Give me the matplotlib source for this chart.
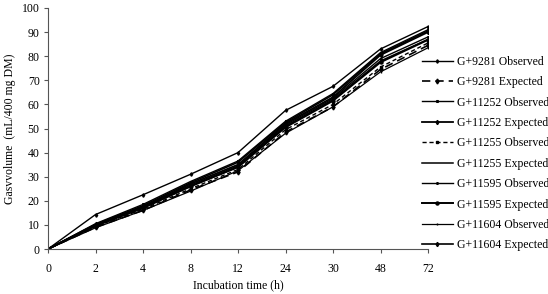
import matplotlib.pyplot as plt

plt.rcParams['font.family'] = ['Liberation Serif', 'DejaVu Serif']

hours = ['0', '2', '4', '8', '12', '24', '30', '48', '72']

g9281_obs = [0, 14.3, 22.5, 31.0, 40.0, 57.5, 67.5, 83.0, 92.3]
g9281_exp = [0, 9.0, 16.0, 24.5, 32.0, 48.5, 59.0, 74.5, 84.5]
g11252_obs = [0, 10.5, 18.5, 28.0, 36.5, 53.0, 64.5, 81.5, 91.0]
g11252_exp = [0, 10.0, 17.5, 27.0, 35.0, 52.0, 63.0, 80.5, 90.0]
g11255_obs = [0, 9.4, 16.5, 25.0, 33.0, 49.5, 60.0, 75.5, 85.5]
g11255_exp = [0, 9.8, 17.0, 26.0, 34.0, 51.0, 62.0, 78.0, 87.0]
g11595_obs = [0, 10.0, 17.5, 26.5, 34.5, 51.5, 62.5, 79.0, 88.0]
g11595_exp = [0, 9.6, 17.0, 26.0, 34.0, 50.5, 61.5, 77.5, 86.8]
g11604_obs = [0, 8.8, 16.0, 24.0, 32.5, 48.0, 59.0, 73.5, 83.5]
g11604_exp = [0, 10.2, 18.0, 27.5, 36.0, 52.5, 64.0, 81.0, 90.5]

# label, values, linestyle, linewidth, marker, markersize
series = [
    ('G+9281 Observed', g9281_obs, '-', 1.0, 'd', 1.8),
    ('G+9281 Expected', g9281_exp, (0, (5, 3)), 1.2, 'd', 2.5),
    ('G+11252 Observed', g11252_obs, '-', 1.0, 's', 1.2),
    ('G+11252 Expected', g11252_exp, '-', 1.3, 'd', 2.2),
    ('G+11255 Observed', g11255_obs, (0, (3, 2)), 1.0, 's', 2),
    ('G+11255 Expected', g11255_exp, '-', 1.1, '', 0),
    ('G+11595 Observed', g11595_obs, '-', 1.0, 'o', 1.2),
    ('G+11595 Expected', g11595_exp, '-', 1.4, 'o', 2.2),
    ('G+11604 Observed', g11604_obs, '-', 0.9, '|', 2),
    ('G+11604 Expected', g11604_exp, '-', 1.2, 'd', 2.2),
]

fig = plt.figure(figsize=(5.48, 2.94), dpi=100)
ax = fig.add_axes([48 / 548, 1 - 249 / 294, 380 / 548, 241 / 294])

x = range(len(hours))
for label, vals, ls, lw, mk, ms in series:
    ax.plot(x, vals, color='black', linestyle=ls, linewidth=lw,
            marker=mk if mk else None, markersize=ms, label=label)

ax.set_xlim(0, 8)
ax.set_ylim(0, 100)
ax.set_xticks(list(x))
ax.set_xticklabels(hours)
ax.set_yticks(range(0, 101, 10))
ax.spines['top'].set_visible(False)
ax.spines['right'].set_visible(False)
ax.spines['left'].set_color('#555555')
ax.spines['bottom'].set_color('#555555')
ax.tick_params(axis='x', direction='out', length=3, pad=7, labelsize=8.5, color='#555555')
ax.tick_params(axis='y', direction='out', length=3, pad=3, labelsize=8.5, color='#555555')
ax.set_xlabel('Incubation time (h)', fontsize=8.5, labelpad=3)
ax.set_ylabel('Gasvvolume  (mL/400 mg DM)', fontsize=8.5, labelpad=4)

fig.legend(loc='upper left', bbox_to_anchor=(0.770, 0.81), frameon=False,
           fontsize=8.5, handlelength=2.6, handletextpad=0.35,
           labelspacing=0.71, borderpad=0, borderaxespad=0)

fig.savefig('out.png', dpi=100)
